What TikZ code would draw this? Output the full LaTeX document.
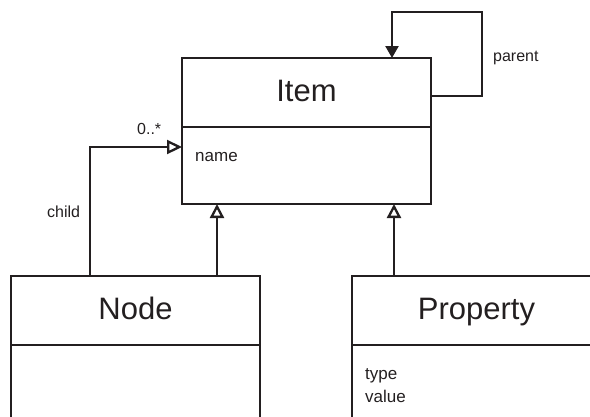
\documentclass[tikz,border=0pt]{standalone}
\usepackage{fontspec}
\setmainfont{Liberation Sans}
\usetikzlibrary{arrows.meta,positioning}
\definecolor{ink}{HTML}{231F20}
\tikzstyle{classhead}=[draw=ink,text=ink,line width=1.5pt,outer sep=0pt,inner sep=0pt,minimum width=249pt,minimum height=69pt,text height=22pt,text depth=4pt,font=\fontsize{31}{37}\selectfont]
\tikzstyle{classbody}=[draw=ink,line width=1.5pt,outer sep=0pt,inner sep=0pt,minimum width=249pt]
\tikzstyle{attr}=[anchor=base west,inner sep=0pt,text=ink,font=\fontsize{17}{20}\selectfont]
\tikzstyle{rolelabel}=[anchor=base west,inner sep=0pt,text=ink,font=\fontsize{16}{19}\selectfont]
\tikzstyle{link}=[draw=ink,line width=2.3pt]
\tikzstyle{inherit}=[link,-{Triangle[open,width=14pt,length=14pt]}]
\tikzstyle{assoc}=[link,-{Triangle[open,width=14pt,length=15pt]}]
\tikzstyle{selfref}=[link,-{Triangle[width=13pt,length=12pt]}]

\begin{document}
\begin{tikzpicture}[x=1pt,y=-1pt]
    \clip (0,0) rectangle (590,416);

    % First we draw the classes
    \node[classhead] (itemhead) at (306.5,92.5) {Item};
    \node[classbody,minimum height=77pt,below=0pt of itemhead] (itembody) {};
    \node[classhead] (nodehead) at (135.5,310.5) {Node};
    \node[classbody,minimum height=100pt,below=0pt of nodehead] (nodebody) {};
    \node[classhead] (prophead) at (476.5,310.5) {Property};
    \node[classbody,minimum height=100pt,below=0pt of prophead] (propbody) {};

    % attributes
    \node[attr] (itemname) at ([shift={(13pt,-34pt)}]itembody.north west) {name};
    \node[attr] (proptype) at ([shift={(13pt,-34pt)}]propbody.north west) {type};
    \node[attr] (propvalue) at ([yshift=-23pt]proptype.base west) {value};

    % Connect classes
    \draw[inherit] ([xshift=81.5pt]nodehead.north) -- ([xshift=81.5pt]nodehead.north |- itembody.south);
    \draw[inherit] ([xshift=-82.5pt]prophead.north) -- ([xshift=-82.5pt]prophead.north |- itembody.south);
    \draw[assoc] ([xshift=-45.5pt]nodehead.north) |- ([yshift=-20pt]itembody.north west);
    \draw[selfref] ([yshift=-3.5pt]itemhead.east) -- ++(51,0) -- ++(0,-84) -| ([xshift=85.5pt]itemhead.north);

    % role names
    \node[rolelabel] (multlbl) at (137,134) {0..*};
    \node[rolelabel] (childlbl) at (47,217) {child};
    \node[rolelabel] (parentlbl) at (493,61) {parent};
\end{tikzpicture}
\end{document}
